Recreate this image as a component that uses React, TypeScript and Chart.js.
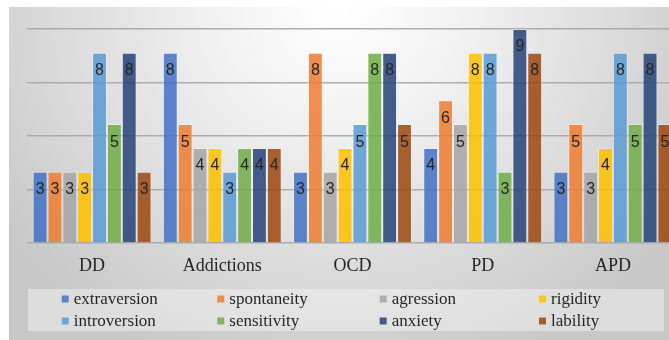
import React, { useEffect, useRef } from "react";
import { Chart, registerables } from "chart.js";

Chart.register(...registerables);

// Disorder groups along the x axis
const categories = ["DD", "Addictions", "OCD", "PD", "APD"];

// Trait scores per group
const extraversion = [3, 8, 3, 4, 3];
const spontaneity = [3, 5, 8, 6, 5];
const agression = [3, 4, 3, 5, 3];
const rigidity = [3, 4, 4, 8, 4];
const introversion = [8, 3, 5, 8, 8];
const sensitivity = [5, 4, 8, 3, 5];
const anxiety = [8, 4, 8, 9, 8];
const lability = [3, 4, 5, 8, 5];

const seriesNames = [
  "extraversion",
  "spontaneity",
  "agression",
  "rigidity",
  "introversion",
  "sensitivity",
  "anxiety",
  "lability",
];
const seriesValues = [
  extraversion,
  spontaneity,
  agression,
  rigidity,
  introversion,
  sensitivity,
  anxiety,
  lability,
];
const seriesColors = [
  "rgba(68,114,196,0.86)",
  "rgba(237,125,49,0.86)",
  "rgba(165,165,165,0.86)",
  "rgba(255,192,0,0.86)",
  "rgba(91,155,213,0.86)",
  "rgba(112,173,71,0.86)",
  "rgba(38,68,120,0.86)",
  "rgba(158,72,14,0.86)",
];

// Value labels drawn just inside the top of each bar
const barLabels = {
  id: "barLabels",
  afterDatasetsDraw(chart: any) {
    const ctx = chart.ctx;
    ctx.save();
    ctx.font = '16px "Liberation Sans", Arial, sans-serif';
    ctx.fillStyle = "#262626";
    ctx.textAlign = "center";
    ctx.textBaseline = "middle";
    chart.data.datasets.forEach((ds: any, di: number) => {
      const meta = chart.getDatasetMeta(di);
      meta.data.forEach((bar: any, i: number) => {
        const v = ds.data[i];
        ctx.fillText(String(v), bar.x, bar.y + 18);
      });
    });
    ctx.restore();
  },
};

// Four-column legend laid out in two rows under the axis
const legendCols = [52.7, 208.3, 370.7, 530];
const gridLegend = {
  id: "gridLegend",
  afterDraw(chart: any) {
    const ctx = chart.ctx;
    ctx.save();
    ctx.fillStyle = "rgba(246,246,246,0.45)";
    ctx.fillRect(19, 282, 636, 42);
    ctx.font = '17px "Liberation Serif", "Times New Roman", serif';
    ctx.textBaseline = "middle";
    ctx.textAlign = "left";
    chart.data.datasets.forEach((ds: any, i: number) => {
      const col = i % 4;
      const row = Math.floor(i / 4);
      const x = legendCols[col];
      const y = 292 + row * 22;
      ctx.fillStyle = ds.backgroundColor;
      ctx.fillRect(x, y - 3.5, 7, 7);
      ctx.fillStyle = "#262626";
      ctx.fillText(ds.label, x + 12, y + 1);
    });
    ctx.restore();
  },
};

export default function App() {
  const canvasRef = useRef<HTMLCanvasElement | null>(null);

  useEffect(() => {
    if (!canvasRef.current) return;
    const chart = new Chart(canvasRef.current, {
      type: "bar",
      data: {
        labels: categories,
        datasets: seriesNames.map((name, i) => ({
          label: name,
          data: seriesValues[i],
          backgroundColor: seriesColors[i],
          borderColor: "rgba(255,255,255,0.35)",
          borderWidth: 1,
          categoryPercentage: 0.913,
          barPercentage: 1,
        })),
      },
      options: {
        responsive: false,
        animation: false,
        layout: { padding: { left: 18, right: 3, top: 22, bottom: 57 } },
        plugins: {
          legend: { display: false },
          tooltip: { enabled: false },
        },
        scales: {
          x: {
            grid: { display: false, drawTicks: false },
            border: { display: false },
            ticks: {
              padding: 12,
              color: "#262626",
              font: { family: '"Liberation Serif", "Times New Roman", serif', size: 18 },
            },
            afterFit: (s: any) => {
              s.height = 40;
            },
          },
          y: {
            min: 0,
            max: 9,
            ticks: { display: false, stepSize: 2.25 },
            grid: { color: "rgba(165,165,165,0.9)", lineWidth: 1.5, drawTicks: false },
            border: { display: false },
            afterFit: (s: any) => {
              s.width = 0;
            },
          },
        },
      },
      plugins: [barLabels, gridLegend],
    });
    return () => chart.destroy();
  }, []);

  return (
    <div
      style={{
        position: "absolute",
        left: 9,
        top: 7,
        width: 660,
        height: 333,
        overflow: "hidden",
        background:
          "radial-gradient(ellipse 62% 115% at 50% 0%, #ffffff 0%, #f2f2f2 30%, #dadada 70%, #c8c8c8 100%)",
      }}
    >
      <canvas ref={canvasRef} width={672} height={333} style={{ display: "block", width: 672, height: 333 }} />
    </div>
  );
}
